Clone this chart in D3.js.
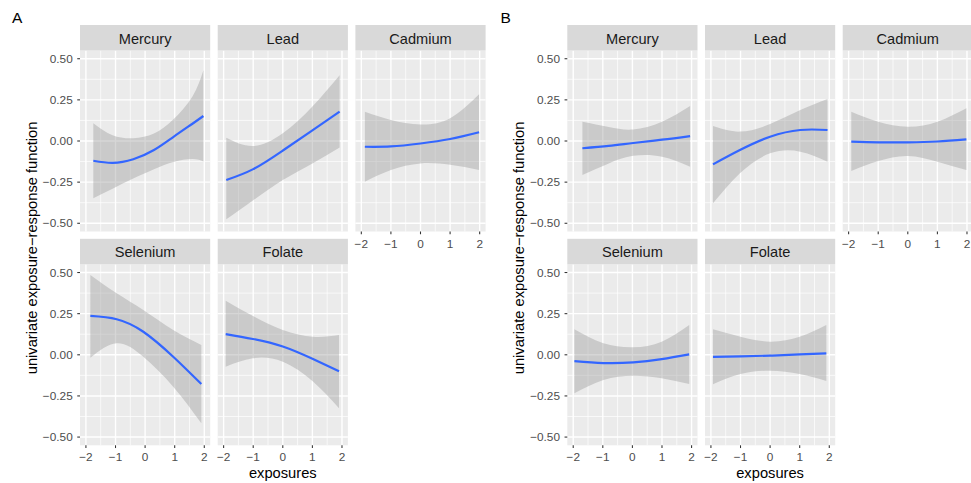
<!DOCTYPE html>
<html>
<head>
<meta charset="utf-8">
<script src="https://cdn.jsdelivr.net/npm/d3@7"></script>
<style>
  html, body { margin: 0; padding: 0; background: #fff; }
  svg { display: block; font-family: "Liberation Sans", Arial, Helvetica, sans-serif; }
</style>
</head>
<body>
<svg id="chart" width="971" height="483"></svg>
<script>
// ---------------- data ----------------
const figureLabels = ["A", "B"];
const exposureNames = ["Mercury", "Lead", "Cadmium", "Selenium", "Folate"];
const yTickValues = [-0.5, -0.25, 0, 0.25, 0.5];
const yTickLabels = ["\u22120.50", "\u22120.25", "0.00", "0.25", "0.50"];
const xTickValues = [-2, -1, 0, 1, 2];
const xTickLabels = ["\u22122", "\u22121", "0", "1", "2"];
const yTitle = "univariate exposure\u2212response function";
const xTitle = "exposures";

// Panel A
const A_Mercury_x   = [-1.75, -1.1, -0.4, 0.3, 0.95, 1.6, 1.97];
const A_Mercury_fit = [-0.12, -0.133, -0.111, -0.055, 0.024, 0.105, 0.152];
const A_Mercury_lo  = [-0.348, -0.29, -0.228, -0.172, -0.128, -0.11, -0.125];
const A_Mercury_hi  = [0.108, 0.035, 0.017, 0.045, 0.13, 0.27, 0.43];

const A_Lead_x   = [-1.91, -1.0, 0.0, 1.0, 1.92];
const A_Lead_fit = [-0.237, -0.171, -0.058, 0.065, 0.178];
const A_Lead_lo  = [-0.476, -0.36, -0.237, -0.136, -0.04];
const A_Lead_hi  = [0.02, -0.03, 0.047, 0.21, 0.4];

const A_Cadmium_x   = [-1.88, -1.0, 0.0, 1.0, 1.98];
const A_Cadmium_fit = [-0.035, -0.033, -0.015, 0.012, 0.053];
const A_Cadmium_lo  = [-0.247, -0.176, -0.136, -0.145, -0.176];
const A_Cadmium_hi  = [0.178, 0.128, 0.1, 0.138, 0.284];

const A_Selenium_x   = [-1.85, -0.96, -0.06, 0.95, 1.9];
const A_Selenium_fit = [0.236, 0.216, 0.14, -0.012, -0.178];
const A_Selenium_lo  = [-0.018, 0.07, -0.012, -0.194, -0.416];
const A_Selenium_hi  = [0.485, 0.374, 0.272, 0.151, 0.06];

const A_Folate_x   = [-1.93, -1.01, 0.0, 1.02, 1.9];
const A_Folate_fit = [0.126, 0.096, 0.05, -0.026, -0.1];
const A_Folate_lo  = [-0.072, -0.021, -0.042, -0.163, -0.325];
const A_Folate_hi  = [0.329, 0.236, 0.151, 0.11, 0.12];

// Panel B
const B_Mercury_x   = [-1.69, -0.8, 0.03, 1.0, 1.95];
const B_Mercury_fit = [-0.044, -0.03, -0.012, 0.008, 0.03];
const B_Mercury_lo  = [-0.207, -0.136, -0.09, -0.095, -0.156];
const B_Mercury_hi  = [0.117, 0.085, 0.07, 0.117, 0.213];

const B_Lead_x   = [-1.93, -1.02, 0.0, 1.02, 1.94];
const B_Lead_fit = [-0.142, -0.055, 0.026, 0.067, 0.067];
const B_Lead_lo  = [-0.379, -0.196, -0.075, -0.065, -0.126];
const B_Lead_hi  = [0.091, 0.057, 0.103, 0.188, 0.255];

const B_Cadmium_x   = [-1.91, -1.0, 0.0, 1.0, 1.98];
const B_Cadmium_fit = [-0.004, -0.008, -0.008, -0.003, 0.01];
const B_Cadmium_lo  = [-0.182, -0.122, -0.091, -0.126, -0.176];
const B_Cadmium_hi  = [0.178, 0.117, 0.087, 0.117, 0.199];

const B_Selenium_x   = [-1.96, -0.98, 0.03, 0.99, 1.92];
const B_Selenium_fit = [-0.038, -0.05, -0.046, -0.026, 0.003];
const B_Selenium_lo  = [-0.234, -0.153, -0.127, -0.143, -0.178];
const B_Selenium_hi  = [0.155, 0.07, 0.046, 0.08, 0.181];

const B_Folate_x   = [-1.93, -1.0, 0.0, 1.0, 1.9];
const B_Folate_fit = [-0.013, -0.009, -0.005, 0.002, 0.009];
const B_Folate_lo  = [-0.179, -0.117, -0.097, -0.117, -0.159];
const B_Folate_hi  = [0.155, 0.11, 0.08, 0.11, 0.181];

const seriesTable = {
  A: {
    Mercury:  [A_Mercury_x, A_Mercury_fit, A_Mercury_lo, A_Mercury_hi],
    Lead:     [A_Lead_x, A_Lead_fit, A_Lead_lo, A_Lead_hi],
    Cadmium:  [A_Cadmium_x, A_Cadmium_fit, A_Cadmium_lo, A_Cadmium_hi],
    Selenium: [A_Selenium_x, A_Selenium_fit, A_Selenium_lo, A_Selenium_hi],
    Folate:   [A_Folate_x, A_Folate_fit, A_Folate_lo, A_Folate_hi]
  },
  B: {
    Mercury:  [B_Mercury_x, B_Mercury_fit, B_Mercury_lo, B_Mercury_hi],
    Lead:     [B_Lead_x, B_Lead_fit, B_Lead_lo, B_Lead_hi],
    Cadmium:  [B_Cadmium_x, B_Cadmium_fit, B_Cadmium_lo, B_Cadmium_hi],
    Selenium: [B_Selenium_x, B_Selenium_fit, B_Selenium_lo, B_Selenium_hi],
    Folate:   [B_Folate_x, B_Folate_fit, B_Folate_lo, B_Folate_hi]
  }
};

// ---------------- layout ----------------
const svg = d3.select("#chart");
const figLeft = { A: 80, B: 567.3 };
const figLabelX = { A: 12, B: 500.5 };
const yTitleX = { A: 36.5, B: 523.5 };
const panelW = 130.2, colStep = 137.7;
const stripH = 25.5, plotH = 181;
const stripTop = [25, 238.8];
const xDomain = [-2.2, 2.2], yDomain = [-0.55, 0.55];
const minorY = [-0.375, -0.125, 0.125, 0.375];
const minorX = [-1.5, -0.5, 0.5, 1.5];

const x = d3.scaleLinear().domain(xDomain).range([0, panelW]);
const y = d3.scaleLinear().domain(yDomain).range([plotH, 0]);

const positions = [
  { name: "Mercury", row: 0, col: 0 },
  { name: "Lead", row: 0, col: 1 },
  { name: "Cadmium", row: 0, col: 2 },
  { name: "Selenium", row: 1, col: 0 },
  { name: "Folate", row: 1, col: 1 }
];

figureLabels.forEach(fig => {
  const fg = svg.append("g");
  fg.append("text")
    .attr("x", figLabelX[fig]).attr("y", 22.7)
    .attr("font-size", 15.5).attr("fill", "#000")
    .text(fig);

  positions.forEach(p => {
    const px = figLeft[fig] + p.col * colStep;
    const sy = stripTop[p.row];
    const py = sy + stripH;
    const g = fg.append("g").attr("transform", `translate(${px},${py})`);

    // strip
    fg.append("rect").attr("x", px).attr("y", sy).attr("width", panelW).attr("height", stripH)
      .attr("fill", "#D9D9D9");
    fg.append("text").attr("x", px + panelW / 2).attr("y", sy + 18.5)
      .attr("text-anchor", "middle").attr("font-size", 14.6).attr("fill", "#1A1A1A")
      .text(p.name);

    // panel background
    g.append("rect").attr("width", panelW).attr("height", plotH).attr("fill", "#EBEBEB");

    // grid
    minorY.forEach(v => g.append("line").attr("x1", 0).attr("x2", panelW)
      .attr("y1", y(v)).attr("y2", y(v)).attr("stroke", "#fff").attr("stroke-width", 0.7));
    minorX.forEach(v => g.append("line").attr("y1", 0).attr("y2", plotH)
      .attr("x1", x(v)).attr("x2", x(v)).attr("stroke", "#fff").attr("stroke-width", 0.7));
    yTickValues.forEach(v => g.append("line").attr("x1", 0).attr("x2", panelW)
      .attr("y1", y(v)).attr("y2", y(v)).attr("stroke", "#fff").attr("stroke-width", 1.4));
    xTickValues.forEach(v => g.append("line").attr("y1", 0).attr("y2", plotH)
      .attr("x1", x(v)).attr("x2", x(v)).attr("stroke", "#fff").attr("stroke-width", 1.4));

    // data
    const s = seriesTable[fig][p.name];
    const pts = s[0].map((xv, i) => ({ x: xv, fit: s[1][i], lo: s[2][i], hi: s[3][i] }));
    const area = d3.area().x(d => x(d.x)).y0(d => y(d.lo)).y1(d => y(d.hi))
      .curve(d3.curveNatural);
    const line = d3.line().x(d => x(d.x)).y(d => y(d.fit))
      .curve(d3.curveNatural);
    g.append("path").attr("d", area(pts)).attr("fill", "#999999").attr("fill-opacity", 0.4);
    g.append("path").attr("d", line(pts)).attr("fill", "none")
      .attr("stroke", "#3366FF").attr("stroke-width", 2.2);

    // y axis (first column)
    if (p.col === 0) {
      yTickValues.forEach((v, i) => {
        g.append("line").attr("x1", -2.75).attr("x2", 0).attr("y1", y(v)).attr("y2", y(v))
          .attr("stroke", "#333").attr("stroke-width", 1.07);
        g.append("text").attr("x", -7.3).attr("y", y(v) + 4.2)
          .attr("text-anchor", "end").attr("font-size", 11.8).attr("fill", "#4D4D4D")
          .text(yTickLabels[i]);
      });
    }
    // x axis (bottom of each column)
    if (p.row === 1 || p.col === 2) {
      xTickValues.forEach((v, i) => {
        g.append("line").attr("x1", x(v)).attr("x2", x(v)).attr("y1", plotH).attr("y2", plotH + 2.75)
          .attr("stroke", "#333").attr("stroke-width", 1.07);
        g.append("text").attr("x", x(v)).attr("y", plotH + 16)
          .attr("text-anchor", "middle").attr("font-size", 11.8).attr("fill", "#4D4D4D")
          .text(xTickLabels[i]);
      });
    }
  });

  // axis titles
  const left = figLeft[fig], right = figLeft[fig] + 2 * colStep + panelW;
  fg.append("text").attr("x", (left + right) / 2).attr("y", 478)
    .attr("text-anchor", "middle").attr("font-size", 14.7).attr("fill", "#000")
    .text(xTitle);
  const midY = (stripTop[0] + stripH + stripTop[1] + stripH + plotH) / 2;
  fg.append("text").attr("transform", `translate(${yTitleX[fig]},${midY}) rotate(-90)`)
    .attr("text-anchor", "middle").attr("font-size", 14.7).attr("fill", "#000")
    .text(yTitle);
});
</script>
</body>
</html>
